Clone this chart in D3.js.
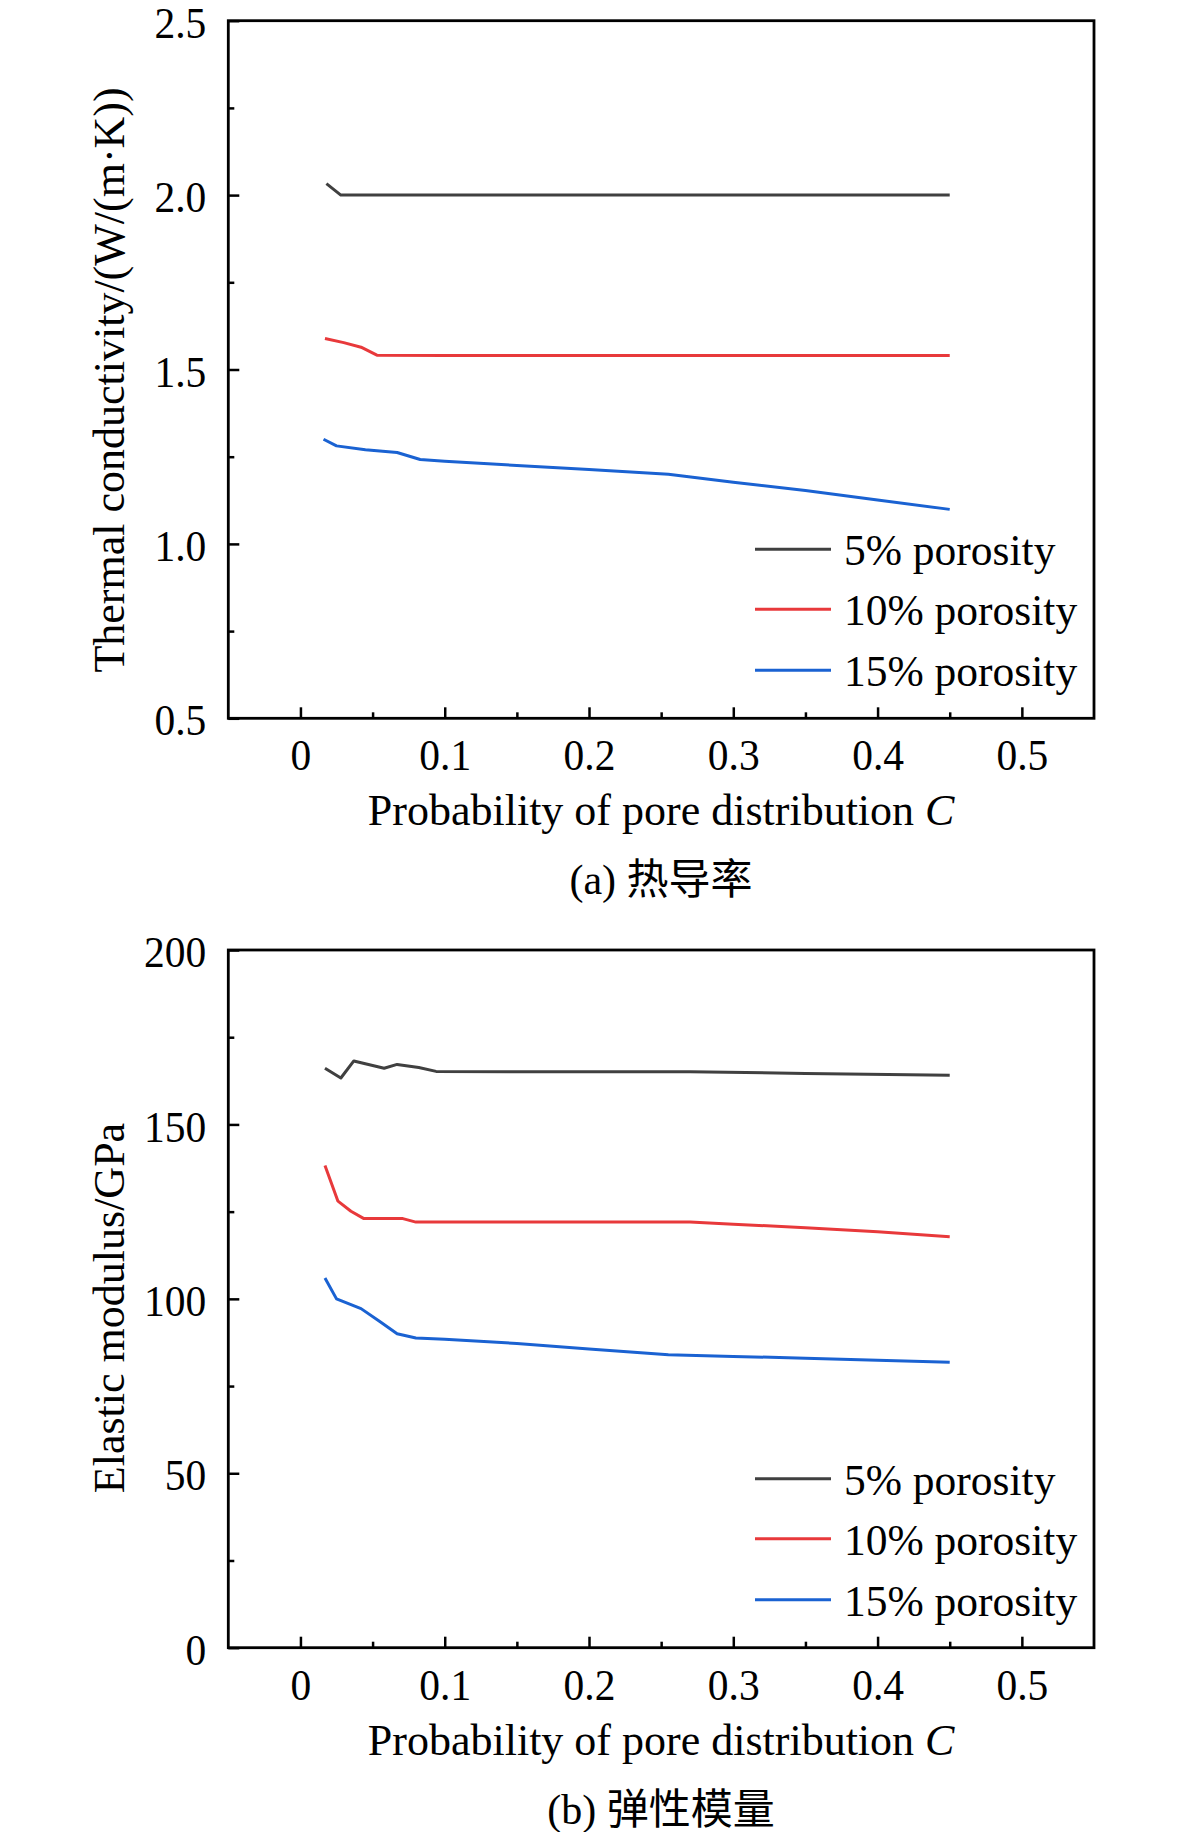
<!DOCTYPE html>
<html>
<head>
<meta charset="utf-8">
<script src="https://cdn.jsdelivr.net/npm/d3@7/dist/d3.min.js"></script>
<style>
  html, body { margin: 0; padding: 0; background: #ffffff; }
  text { font-family: "Liberation Serif", "Times New Roman", "Noto Sans CJK SC", serif; fill: #000; }
</style>
</head>
<body>
<svg id="chart" width="1181" height="1832"></svg>
<script>
// ---------- Data ----------
const seriesNames = ["5% porosity", "10% porosity", "15% porosity"];
const seriesColors = ["#404040", "#e8393b", "#1a62d2"];

// x tick values (probability of pore distribution C)
const xMajorTicks = [0, 0.1, 0.2, 0.3, 0.4, 0.5];
const xMinorTicks = [0.05, 0.15, 0.25, 0.35, 0.45];

// Panel (a) thermal conductivity
const tcTicks = [0.5, 1.0, 1.5, 2.0, 2.5];
const tcMinor = [0.75, 1.25, 1.75, 2.25];
const tc5 = [[0.018, 2.033], [0.028, 2.0], [0.1, 2.0], [0.2, 2.0], [0.3, 2.0], [0.4, 2.0], [0.45, 2.0]];
const tc10 = [[0.017, 1.589], [0.030, 1.577], [0.042, 1.564], [0.053, 1.541], [0.1, 1.54], [0.2, 1.54], [0.3, 1.54], [0.4, 1.54], [0.45, 1.54]];
const tc15 = [[0.016, 1.30], [0.025, 1.281], [0.045, 1.270], [0.067, 1.262], [0.083, 1.242], [0.1, 1.237],
              [0.15, 1.225], [0.2, 1.213], [0.255, 1.200], [0.3, 1.177], [0.35, 1.153], [0.4, 1.126], [0.45, 1.099]];

// Panel (b) elastic modulus
const emTicks = [0, 50, 100, 150, 200];
const emMinor = [25, 75, 125, 175];
const em5 = [[0.017, 166.1], [0.028, 163.3], [0.037, 168.2], [0.058, 166.1], [0.067, 167.2], [0.082, 166.3],
             [0.094, 165.2], [0.15, 165.1], [0.2, 165.1], [0.27, 165.1], [0.35, 164.6], [0.45, 164.1]];
const em10 = [[0.017, 138.2], [0.026, 128.0], [0.035, 125.1], [0.044, 123.0], [0.071, 123.0], [0.080, 122.0],
              [0.15, 122.0], [0.2, 122.0], [0.27, 122.0], [0.3, 121.4], [0.35, 120.4], [0.4, 119.2], [0.45, 117.8]];
const em15 = [[0.017, 106.0], [0.025, 100.0], [0.042, 97.2], [0.055, 93.5], [0.067, 90.0], [0.080, 88.8],
              [0.1, 88.4], [0.15, 87.2], [0.2, 85.6], [0.255, 84.0], [0.3, 83.5], [0.35, 83.0], [0.4, 82.4], [0.45, 81.8]];

const xTitle = "Probability of pore distribution ";
const xTitleItalic = "C";

const panels = [
  { top: 20.7, bottom: 718.3, domain: [0.5, 2.5], ticks: tcTicks, minor: tcMinor, fmt: d3.format(".1f"),
    series: [tc5, tc10, tc15], yTitle: "Thermal conductivity/(W/(m\u00B7K))", yTitleCenter: 380,
    caption: "(a) 热导率" },
  { top: 950, bottom: 1647.7, domain: [0, 200], ticks: emTicks, minor: emMinor, fmt: d3.format("d"),
    series: [em5, em10, em15], yTitle: "Elastic modulus/GPa", yTitleCenter: 1308,
    caption: "(b) 弹性模量" }
];

// ---------- Drawing ----------
const svg = d3.select("#chart");
const left = 228.3, right = 1094;
const x = d3.scaleLinear().domain([-0.05, 0.55]).range([left, right]);
const sy = 1.08; // vertical stretch of tick labels seen in the reference

panels.forEach(p => {
  const y = d3.scaleLinear().domain(p.domain).range([p.bottom, p.top]);
  const g = svg.append("g");

  // series lines
  const line = d3.line().x(d => x(d[0])).y(d => y(d[1]));
  p.series.forEach((s, i) => {
    g.append("path").datum(s)
      .attr("d", line)
      .attr("fill", "none")
      .attr("stroke", seriesColors[i])
      .attr("stroke-width", 3)
      .attr("stroke-linejoin", "round")
      .attr("stroke-linecap", "butt");
  });

  // x axis major
  const xAxis = g.append("g").attr("transform", `translate(0,${p.bottom})`)
    .call(d3.axisBottom(x).tickValues(xMajorTicks).tickSize(-11).tickSizeOuter(0).tickFormat(d3.format("")));
  xAxis.select(".domain").remove();
  xAxis.selectAll(".tick line").attr("stroke", "#000").attr("stroke-width", 2.5);
  xAxis.selectAll(".tick text").attr("y", 52 / sy).attr("dy", 0)
    .attr("transform", `scale(1,${sy})`)
    .attr("font-size", 41.5).attr("fill", "#000");

  // x axis minor
  const xMin = g.append("g").attr("transform", `translate(0,${p.bottom})`)
    .call(d3.axisBottom(x).tickValues(xMinorTicks).tickSize(-6).tickSizeOuter(0).tickFormat(""));
  xMin.select(".domain").remove();
  xMin.selectAll(".tick line").attr("stroke", "#000").attr("stroke-width", 2.5);

  // y axis major
  const yAxis = g.append("g").attr("transform", `translate(${left},0)`)
    .call(d3.axisLeft(y).tickValues(p.ticks).tickSize(-11).tickSizeOuter(0).tickFormat(p.fmt));
  yAxis.select(".domain").remove();
  yAxis.selectAll(".tick line").attr("stroke", "#000").attr("stroke-width", 2.5);
  yAxis.selectAll(".tick text").attr("x", -22).attr("dy", "0.37em")
    .attr("transform", `scale(1,${sy})`)
    .attr("font-size", 41.5).attr("fill", "#000");

  // y axis minor
  const yMin = g.append("g").attr("transform", `translate(${left},0)`)
    .call(d3.axisLeft(y).tickValues(p.minor).tickSize(-6).tickSizeOuter(0).tickFormat(""));
  yMin.select(".domain").remove();
  yMin.selectAll(".tick line").attr("stroke", "#000").attr("stroke-width", 2.5);

  // frame
  g.append("rect")
    .attr("x", left).attr("y", p.top)
    .attr("width", right - left).attr("height", p.bottom - p.top)
    .attr("fill", "none").attr("stroke", "#000").attr("stroke-width", 2.8);

  // legend
  const legY = [p.bottom - 169, p.bottom - 109, p.bottom - 48];
  seriesNames.forEach((name, i) => {
    g.append("line")
      .attr("x1", 755).attr("x2", 831)
      .attr("y1", legY[i]).attr("y2", legY[i])
      .attr("stroke", seriesColors[i]).attr("stroke-width", 3);
    g.append("text")
      .attr("x", 844).attr("y", legY[i] + 16)
      .attr("font-size", 43.5)
      .text(name);
  });

  // x title
  const xt = g.append("text")
    .attr("x", (left + right) / 2).attr("y", p.bottom + 107)
    .attr("text-anchor", "middle")
    .attr("font-size", 44);
  xt.append("tspan").text(xTitle);
  xt.append("tspan").attr("font-style", "italic").text(xTitleItalic);

  // y title
  g.append("text")
    .attr("transform", `translate(124,${p.yTitleCenter}) rotate(-90)`)
    .attr("text-anchor", "middle")
    .attr("font-size", 44)
    .text(p.yTitle);

  // caption
  g.append("text")
    .attr("x", 661).attr("y", p.bottom + 176)
    .attr("text-anchor", "middle")
    .attr("font-size", 42)
    .text(p.caption);
});
</script>
</body>
</html>
